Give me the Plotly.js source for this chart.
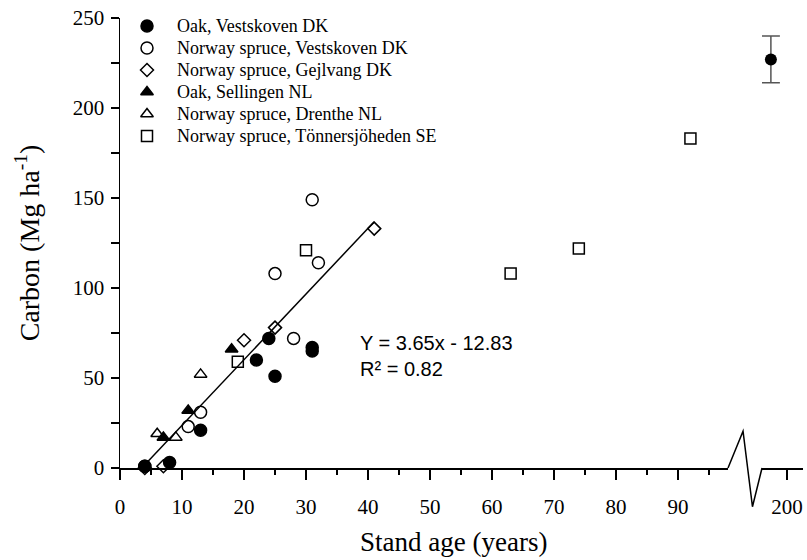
<!DOCTYPE html>
<html>
<head>
<meta charset="utf-8">
<script src="https://cdn.plot.ly/plotly-3.0.1.min.js"></script>
<style>html,body{margin:0;padding:0;background:#fff;}#chart{width:807px;height:560px;}</style>
</head>
<body>
<div id="chart"></div>
<script>
// ---- data ----
const seriesNames = [
  "Oak, Vestskoven DK",
  "Norway spruce, Vestskoven DK",
  "Norway spruce, Gejlvang DK",
  "Oak, Sellingen NL",
  "Norway spruce, Drenthe NL",
  "Norway spruce, Tönnersjöheden SE"
];
const oakVK_x = [4, 8, 13, 22, 24, 25, 31, 31];
const oakVK_y = [1, 3, 21, 60, 72, 51, 65, 67];
const nsVK_x = [4, 11, 13, 25, 28, 31, 32];
const nsVK_y = [1, 23, 31, 108, 72, 149, 114];
const nsGJ_x = [4, 7, 20, 25, 41];
const nsGJ_y = [0, 1, 71, 78, 133];
const oakSL_x = [7, 11, 18];
const oakSL_y = [17, 32, 66];
const nsDR_x = [6, 9, 13];
const nsDR_y = [19, 17, 52];
const nsTS_x = [19, 30, 63, 74, 92];
const nsTS_y = [59, 121, 108, 122, 183];
// old stand beyond the axis break
const old_x = [197.4];
const old_y = [227];
const old_err = [13];
// regression line end points
const fit_x = [4, 41];
const fit_y = [1.77, 136.8];
const xTicks = [0, 10, 20, 30, 40, 50, 60, 70, 80, 90];
const x2Ticks = [200];
const yTicks = [0, 50, 100, 150, 200, 250];
const fitText = "Y = 3.65x - 12.83<br>R² = 0.82";
const xTitle = "Stand age (years)";
const yTitle = "Carbon (Mg ha<sup>-1</sup>)";

const serif = "Liberation Serif, Times New Roman, serif";
const sans = "Liberation Sans, Arial, sans-serif";

const symbols = ["circle", "circle-open", "diamond-open", "triangle-up", "triangle-up-open", "square-open"];
const sizes = [12, 12, 10, 11, 11, 11];
const seriesX = [oakVK_x, nsVK_x, nsGJ_x, oakSL_x, nsDR_x, nsTS_x];
const seriesY = [oakVK_y, nsVK_y, nsGJ_y, oakSL_y, nsDR_y, nsTS_y];

function mkMarker(i) {
  return {symbol: symbols[i], size: sizes[i], color: "#000", line: {color: "#000", width: 1.5}};
}

const traces = [
  {x: fit_x, y: fit_y, type: "scatter", mode: "lines", showlegend: false,
   line: {color: "#000", width: 1.5}, hoverinfo: "skip"}
];
seriesNames.forEach((name, i) => {
  traces.push({x: seriesX[i], y: seriesY[i], name: name, type: "scatter", mode: "markers",
    xaxis: "x", yaxis: "y", cliponaxis: false, showlegend: false, marker: mkMarker(i)});
});
traces.push({x: old_x, y: old_y, type: "scatter", mode: "markers", xaxis: "x2", yaxis: "y",
   showlegend: false, cliponaxis: false,
   marker: {symbol: "circle", size: 12, color: "#000"},
   error_y: {type: "data", array: old_err, visible: true, color: "#555", thickness: 1.5, width: 9}});

// legend drawn on a hidden pixel-unit overlay (x3/y3), rows 22 px apart
const legKeyX = 27, legTextX = 55, legTop = 8, legStep = 22;
const annotations = [];
seriesNames.forEach((name, i) => {
  const ry = legTop + i * legStep;
  traces.push({x: [legKeyX], y: [ry], type: "scatter", mode: "markers", xaxis: "x3", yaxis: "y3",
    showlegend: false, cliponaxis: false, marker: mkMarker(i), hoverinfo: "skip"});
  annotations.push({x: legTextX, y: ry, xref: "x3", yref: "y3", xanchor: "left", yanchor: "middle",
    text: name, showarrow: false, font: {family: serif, size: 18, color: "#000"}});
});
annotations.push({
  x: 38.4, y: 62, xref: "x", yref: "y", xanchor: "left", yanchor: "middle", align: "left",
  text: fitText, showarrow: false, font: {family: sans, size: 20, color: "#000"}
});
annotations.push({
  x: 0.489, y: -0.164, xref: "paper", yref: "paper", xanchor: "center", yanchor: "middle",
  text: xTitle, showarrow: false, font: {family: serif, size: 27, color: "#000"}
});

const axCommon = {
  showgrid: false, zeroline: false, showline: true, linecolor: "#000", linewidth: 1.5,
  ticks: "outside", tickcolor: "#000", tickwidth: 1.5,
  tickfont: {family: serif, size: 21, color: "#000"}
};

const layout = {
  width: 807, height: 560,
  margin: {l: 120, r: 4, t: 18, b: 92},
  paper_bgcolor: "#fff", plot_bgcolor: "rgba(0,0,0,0)",
  showlegend: false,
  xaxis: Object.assign({}, axCommon, {
    domain: [0, 0.8902], range: [0, 98.06], tickmode: "array", tickvals: xTicks, ticklen: 10,
    ticklabelstandoff: 9,
    minor: {dtick: 5, tick0: 0, ticklen: 5, ticks: "outside", tickcolor: "#000", tickwidth: 1.5},
    anchor: "y"
  }),
  xaxis2: Object.assign({}, axCommon, {
    domain: [0.94, 1], range: [195.97, 202.58], tickmode: "array", tickvals: x2Ticks, ticklen: 10,
    ticklabelstandoff: 9,
    anchor: "y"
  }),
  yaxis: Object.assign({}, axCommon, {
    range: [0, 250], tickmode: "array", tickvals: yTicks, ticklen: 8,
    ticklabelstandoff: 2,
    minor: {dtick: 25, tick0: 0, ticklen: 8, ticks: "outside", tickcolor: "#000", tickwidth: 1.5},
    title: {text: yTitle, font: {family: serif, size: 28, color: "#000"}, standoff: 25},
    anchor: "x"
  }),
  xaxis3: {overlaying: "x", range: [0, 608], visible: false, fixedrange: true},
  yaxis3: {overlaying: "y", range: [450, 0], visible: false, fixedrange: true},
  annotations: annotations,
  shapes: [{
    type: "path", xref: "paper", yref: "paper",
    path: "M 0.8902 0 L 0.9122 0.0816 L 0.9260 -0.0860 L 0.9400 0",
    line: {color: "#000", width: 1.5}
  }]
};

Plotly.newPlot("chart", traces, layout, {displayModeBar: false, staticPlot: true});
</script>
</body>
</html>
